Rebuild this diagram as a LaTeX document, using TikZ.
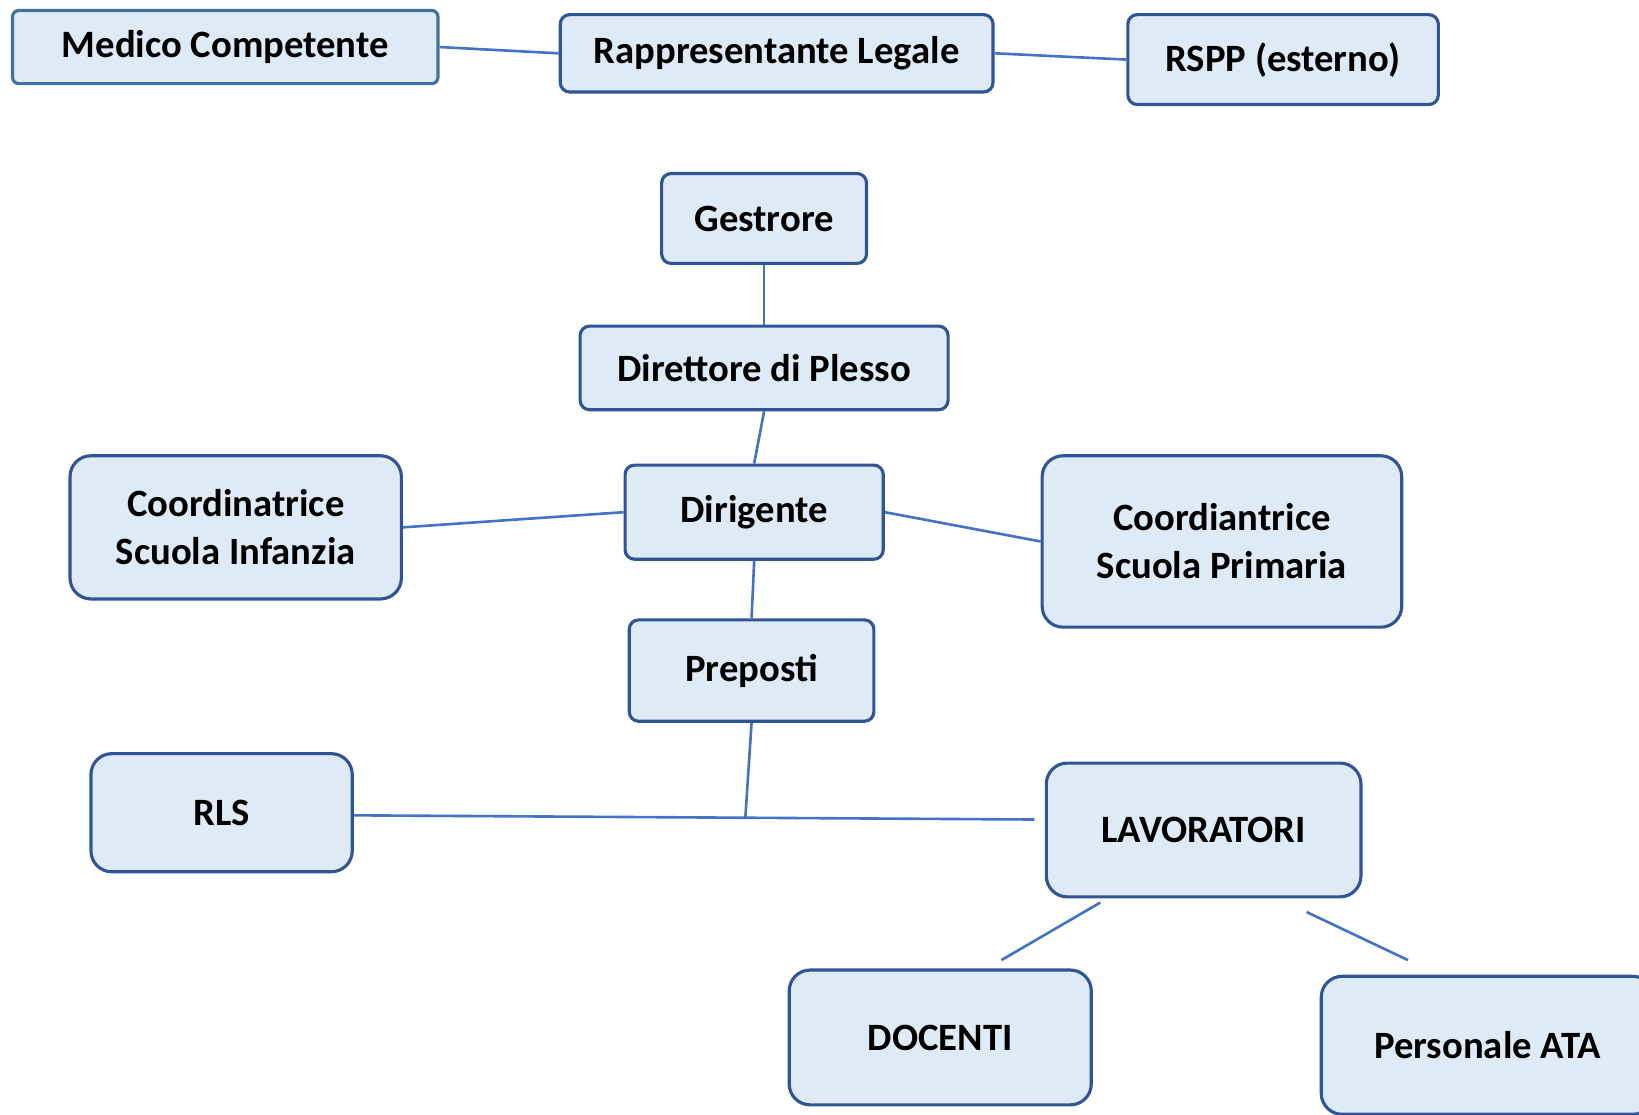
\documentclass[tikz,border=0pt]{standalone}
\usepackage{fontspec}
\setmainfont{Carlito}
\definecolor{boxfill}{HTML}{DEEBF7}
\definecolor{boxline}{HTML}{2F5597}
\definecolor{medline}{HTML}{41719C}
\definecolor{linkcol}{HTML}{4472C4}
\begin{document}
\begin{tikzpicture}[x=1pt,y=-1pt,
	role/.style={draw=boxline, fill=boxfill, line width=3pt, rounded corners=9pt,
		inner sep=0pt, align=center, font=\fontsize{37}{46}\selectfont\bfseries},
	bigrole/.style={role, rounded corners=20pt},
	link/.style={draw=linkcol, line width=2.5pt}]
			\useasboundingbox (0,0) rectangle (1568,1066);
			\clip (0,0) rectangle (1568,1066);
			% top row: legal representative and external roles
			\node[role, draw=medline, rounded corners=6pt, minimum width=407pt, minimum height=70pt] (med) at (215.5,45) {Medico Competente};
			\node[role, minimum width=414pt, minimum height=74pt] (rap) at (743,51) {Rappresentante Legale};
			\node[role, minimum width=297pt, minimum height=86pt] (rspp) at (1227.5,57) {RSPP (esterno)};
			\draw[link] (med.east) -- (rap.west);
			\draw[link] (rap.east) -- (rspp.west);
			% main chain
			\node[role, minimum width=196pt, minimum height=86pt] (ges) at (731,209) {Gestrore};
			\node[role, minimum width=352pt, minimum height=80pt] (dir) at (731,352) {Direttore di Plesso};
			\node[role, minimum width=247pt, minimum height=90pt] (dirig) at (721.5,490) {Dirigente};
			\node[bigrole, minimum width=317pt, minimum height=137pt] (cinf) at (225.5,504.5) {Coordinatrice\\Scuola Infanzia};
			\node[bigrole, minimum width=344pt, minimum height=164pt] (cpri) at (1169,518) {Coordiantrice\\Scuola Primaria};
			\node[role, minimum width=234pt, minimum height=97pt] (prep) at (719,641.5) {Preposti};
			\draw[link] (ges.south) -- (dir.north);
			\draw[link] (dir.south) -- (dirig.north);
			\draw[link] (cinf.east) -- (dirig.west);
			\draw[link] (dirig.east) -- (cpri.west);
			\draw[link] (dirig.south) -- (prep.north);
			% workers level
			\node[bigrole, minimum width=250pt, minimum height=113pt] (rls) at (212,777.5) {RLS};
			\node[bigrole, minimum width=301pt, minimum height=128pt] (lav) at (1151.5,794) {LAVORATORI};
			\coordinate (jn) at (713,783);
			\draw[link] (prep.south) -- (jn);
			\draw[link] ([yshift=-2.5pt]rls.east) -- ([xshift=-10pt,yshift=-1pt]lav.west |- jn);
			% bottom row
			\node[bigrole, minimum width=289pt, minimum height=129pt] (doc) at (899.5,992.5) {DOCENTI};
			\node[bigrole, minimum width=318pt, minimum height=132pt] (ata) at (1423,1000) {Personale ATA};
			\draw[link] ([xshift=-99pt,yshift=-4pt]lav.south) -- ([xshift=58.5pt,yshift=8pt]doc.north);
			\draw[link] ([xshift=98.5pt,yshift=-13pt]lav.south) -- ([xshift=-76pt,yshift=14pt]ata.north);
\end{tikzpicture}
\end{document}
